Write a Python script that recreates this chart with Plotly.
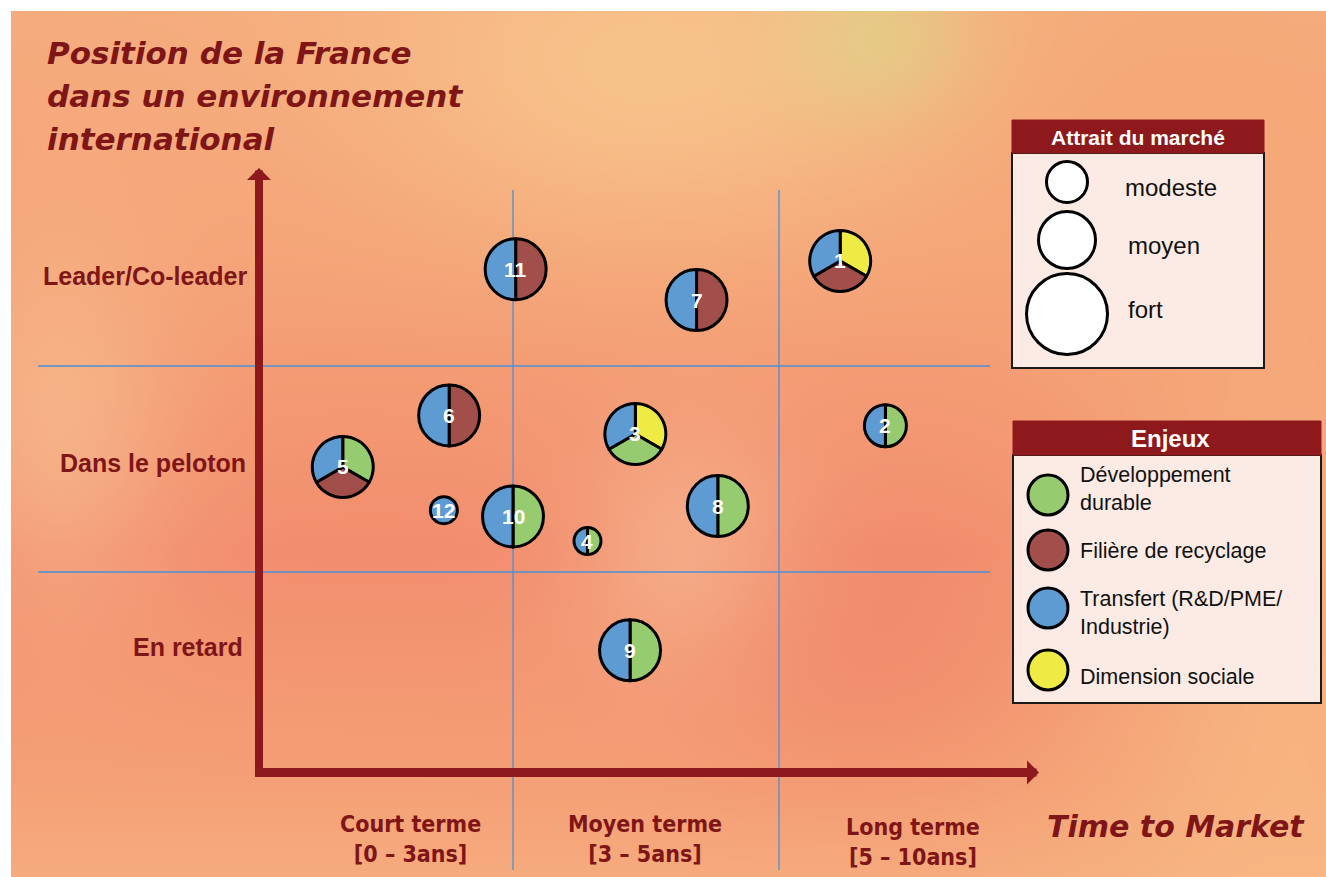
import numpy as np
import plotly.graph_objects as go
import zlib, struct, base64

W, H = 1326, 877

# ------------------------------------------------------------------ data
bubble_ids = ["1", "2", "3", "4", "5", "6", "7", "8", "9", "10", "11", "12"]
# horizon: 0-1 = court terme, 1-2 = moyen terme, 2-3 = long terme
horizon = [2.23, 2.40, 1.46, 1.28, 0.36, 0.76, 1.69, 1.77, 1.44, 1.00, 1.01, 0.74]
# position: 0-1 = en retard, 1-2 = dans le peloton, 2-3 = leader/co-leader
position = [2.51, 1.71, 1.67, 1.15, 1.51, 1.76, 2.32, 1.32, 0.62, 1.27, 2.47, 1.30]
attrait = ["fort", "moyen", "fort", "modeste", "fort", "fort",
           "fort", "fort", "fort", "fort", "fort", "modeste"]
enjeux = [
    ["Dimension sociale", "Filière de recyclage", "Transfert"],
    ["Développement durable", "Transfert"],
    ["Dimension sociale", "Développement durable", "Transfert"],
    ["Développement durable", "Transfert"],
    ["Développement durable", "Filière de recyclage", "Transfert"],
    ["Filière de recyclage", "Transfert"],
    ["Filière de recyclage", "Transfert"],
    ["Développement durable", "Transfert"],
    ["Développement durable", "Transfert"],
    ["Développement durable", "Transfert"],
    ["Filière de recyclage", "Transfert"],
    ["Transfert"],
]

enjeux_keys = ["Développement durable", "Filière de recyclage", "Transfert", "Dimension sociale"]
enjeux_legend = ["Développement<br>durable", "Filière de recyclage",
                 "Transfert (R&D/PME/<br>Industrie)", "Dimension sociale"]
attrait_levels = ["modeste", "moyen", "fort"]
row_labels = ["Leader/Co-leader", "Dans le peloton", "En retard"]
col_labels = ["Court terme<br>[0 – 3ans]", "Moyen terme<br>[3 – 5ans]", "Long terme<br>[5 – 10ans]"]
title_lines = ["Position de la France", "dans un environnement", "international"]
xaxis_title = "Time to Market"
legend1_title = "Attrait du marché"
legend2_title = "Enjeux"

# ------------------------------------------------------------------ styles
enjeux_colors = {"Développement durable": "#97CB6F", "Filière de recyclage": "#A24F4B",
                 "Transfert": "#5E9BD2", "Dimension sociale": "#F0EA44"}
bubble_diam = {"modeste": 30, "moyen": 45, "fort": 64}
legend_diam = {"modeste": 44, "moyen": 60, "fort": 84}
DARK = "#7F1517"
HEAD = "#8E191D"
GRID = "#4A90D9"
FONT = "Liberation Sans, Arial, sans-serif"

# axis scale (pixels per unit) so that the whole page is the plot area
X0PX, XU = 247.0, 266.0
Y0PX, YU = 778.0, 206.0
xr = [(0 - X0PX) / XU, (W - X0PX) / XU]
yr = [(Y0PX - H) / YU, Y0PX / YU]


def px_x(x):
    return X0PX + x * XU


def px_y(y):
    return Y0PX - y * YU


def P(px, py):
    return px / W, 1 - py / H


def dx(px):
    return (px - X0PX) / XU


def dy(py):
    return (Y0PX - py) / YU


# ------------------------------------------------------------------ background image
def png_uri(arr):
    h, w, _ = arr.shape
    raw = b"".join(b"\x00" + arr[i].tobytes() for i in range(h))

    def chunk(t, d):
        c = struct.pack(">I", len(d)) + t + d
        return c + struct.pack(">I", zlib.crc32(t + d) & 0xFFFFFFFF)

    png = (b"\x89PNG\r\n\x1a\n"
           + chunk(b"IHDR", struct.pack(">IIBBBBB", w, h, 8, 2, 0, 0, 0))
           + chunk(b"IDAT", zlib.compress(raw, 9))
           + chunk(b"IEND", b""))
    return "data:image/png;base64," + base64.b64encode(png).decode()


F = 4
BX0, BY0 = 11, 11
bw, bh = (W - BX0) // F, (H - BY0) // F
gx = BX0 + (np.arange(bw) + 0.5) * F
gy = BY0 + (np.arange(bh) + 0.5) * F
XX, YY = np.meshgrid(gx, gy)
stops_y = [0, 250, 550, 780, 877]
stops_c = np.array([[246, 172, 126], [245, 164, 120], [242, 142, 110],
                    [245, 160, 118], [246, 172, 126]], float)
img = np.zeros((bh, bw, 3))
for k in range(3):
    img[:, :, k] = np.interp(YY, stops_y, stops_c[:, k])
blobs = [
    (650, 70, 200, 120, (249, 205, 145), 0.7),
    (880, 40, 70, 60, (215, 224, 140), 0.5),
    (60, 430, 80, 130, (250, 210, 160), 0.45),
    (690, 560, 80, 90, (250, 206, 165), 0.5),
    (1290, 650, 150, 250, (250, 200, 140), 0.55),
    (850, 660, 140, 90, (238, 128, 102), 0.4),
    (1150, 120, 150, 150, (245, 165, 110), 0.3),
]
for cx, cy, sx, sy, col, s in blobs:
    a = s * np.exp(-((XX - cx) ** 2 / (2 * sx ** 2) + (YY - cy) ** 2 / (2 * sy ** 2)))
    for k in range(3):
        img[:, :, k] = img[:, :, k] * (1 - a) + col[k] * a
img = np.clip(img, 0, 255).astype(np.uint8)
bg_uri = png_uri(img)

# ------------------------------------------------------------------ figure
fig = go.Figure()
ann = []

# bubbles (pies placed at the data position)
for bid, x, y, att, enj in zip(bubble_ids, horizon, position, attrait, enjeux):
    cx, cy = px_x(x), px_y(y)
    r = (bubble_diam[att] - 3) / 2
    fig.add_trace(go.Pie(
        values=[1] * len(enj), labels=enj, sort=False, direction="clockwise", rotation=0,
        marker=dict(colors=[enjeux_colors[e] for e in enj], line=dict(color="black", width=3)),
        textinfo="none", hoverinfo="label", showlegend=False,
        domain=dict(x=[(cx - r) / W, (cx + r) / W], y=[1 - (cy + r) / H, 1 - (cy - r) / H]),
    ))
    ann.append(dict(x=x, y=y, xref="x", yref="y", text=f"<b>{bid}</b>", showarrow=False,
                    xanchor="center", yanchor="middle",
                    font=dict(family=FONT, size=21, color="white")))

# legend: attrait du marché
leg_att_y = [182, 240, 314]
fig.add_trace(go.Scatter(
    x=[dx(1067)] * 3, y=[dy(v) for v in leg_att_y], mode="markers", hoverinfo="skip",
    opacity=1,
    marker=dict(size=[legend_diam[l] - 3 for l in attrait_levels], color="white", opacity=1,
                line=dict(color="black", width=3)), showlegend=False))
# legend: enjeux
leg_enj_y = [495, 550, 608, 670]
fig.add_trace(go.Scatter(
    x=[dx(1048)] * 4, y=[dy(v) for v in leg_enj_y], mode="markers", hoverinfo="skip",
    opacity=1,
    marker=dict(size=40, color=[enjeux_colors[k] for k in enjeux_keys], opacity=1,
                line=dict(color="black", width=3)), showlegend=False))

shapes = []
# grid lines
for gxv in [1, 2]:
    shapes.append(dict(type="line", xref="x", yref="y", x0=gxv, x1=gxv, y0=dy(190), y1=dy(870),
                       line=dict(color=GRID, width=1.3), layer="below"))
for gyv in [1, 2]:
    shapes.append(dict(type="line", xref="x", yref="y", x0=dx(38), x1=dx(990), y0=gyv, y1=gyv,
                       line=dict(color=GRID, width=1.3), layer="below"))
# axis shafts
shapes.append(dict(type="line", xref="paper", yref="paper", x0=259 / W, x1=259 / W,
                   y0=1 - 777 / H, y1=1 - 180 / H, line=dict(color=HEAD, width=8), layer="above"))
shapes.append(dict(type="line", xref="paper", yref="paper", x0=255 / W, x1=1030 / W,
                   y0=1 - 772.5 / H, y1=1 - 772.5 / H, line=dict(color=HEAD, width=9), layer="above"))
# legend boxes
for (x0, y0, x1, yh, y1) in [(1012, 120, 1264, 153, 368), (1013, 421, 1321, 455, 703)]:
    shapes.append(dict(type="rect", xref="paper", yref="paper", x0=x0 / W, x1=x1 / W,
                       y0=1 - y1 / H, y1=1 - yh / H, fillcolor="#FCEBE4",
                       line=dict(color="#1a1a1a", width=2), layer="below"))
    shapes.append(dict(type="rect", xref="paper", yref="paper", x0=x0 / W, x1=x1 / W,
                       y0=1 - yh / H, y1=1 - y0 / H, fillcolor=HEAD,
                       line=dict(color=HEAD, width=1), layer="below"))

# arrow heads
ann.append(dict(xref="paper", yref="paper", x=259 / W, y=1 - 168 / H, ax=0, ay=40, text="",
                showarrow=True, arrowhead=1, arrowsize=0.5, arrowwidth=8, arrowcolor=HEAD))
ann.append(dict(xref="paper", yref="paper", x=1039 / W, y=1 - 772.5 / H, ax=-40, ay=0, text="",
                showarrow=True, arrowhead=1, arrowsize=0.5, arrowwidth=8, arrowcolor=HEAD))
# title (one annotation per line)
for line, ly in zip(title_lines, [53, 96, 139]):
    x_, y_ = P(45, ly)
    ann.append(dict(xref="paper", yref="paper", x=x_, y=y_, xanchor="left", yanchor="middle",
                    text=f"<b><i>{line}</i></b>", showarrow=False, align="left",
                    font=dict(family="DejaVu Sans, " + FONT, size=31, color=DARK)))
# row labels
for lab, py, rx in zip(row_labels, [276, 463, 647], [250, 248, 245]):
    x_, y_ = P(rx, py)
    ann.append(dict(xref="paper", yref="paper", x=x_, y=y_, xanchor="right", yanchor="middle",
                    text=f"<b>{lab}</b>", showarrow=False,
                    font=dict(family=FONT, size=25, color=DARK)))
# column labels
for lab, cxp, cyp in zip(col_labels, [410, 645, 913], [839, 839, 842]):
    x_, y_ = P(cxp, cyp)
    ann.append(dict(xref="paper", yref="paper", x=x_, y=y_, xanchor="center", yanchor="middle",
                    text=f"<b>{lab}</b>", showarrow=False, align="center",
                    font=dict(family="Liberation Sans Narrow, DejaVu Sans Condensed, " + FONT,
                              size=23, color=DARK)))
x_, y_ = P(1045, 826)
ann.append(dict(xref="paper", yref="paper", x=x_, y=y_, xanchor="left", yanchor="middle",
                text=f"<b><i>{xaxis_title}</i></b>", showarrow=False,
                font=dict(family="DejaVu Sans, " + FONT, size=30, color=DARK)))
# legend headers
x_, y_ = P(1138, 137)
ann.append(dict(xref="paper", yref="paper", x=x_, y=y_, xanchor="center", yanchor="middle",
                text=f"<b>{legend1_title}</b>",
                showarrow=False, font=dict(family=FONT, size=21, color="white")))
x_, y_ = P(1170, 438)
ann.append(dict(xref="paper", yref="paper", x=x_, y=y_, xanchor="center", yanchor="middle",
                text=f"<b>{legend2_title}</b>",
                showarrow=False, font=dict(family=FONT, size=24, color="white")))
# legend texts
for lab, lx, ly in zip(attrait_levels, [1123, 1126, 1126], [187, 245, 309]):
    x_, y_ = P(lx, ly)
    ann.append(dict(xref="paper", yref="paper", x=x_, y=y_, xanchor="left", yanchor="middle",
                    text=lab, showarrow=False, font=dict(family=FONT, size=24, color="#111")))
for lab, ly in zip(enjeux_legend, [489, 551, 613, 677]):
    x_, y_ = P(1078, ly)
    ann.append(dict(xref="paper", yref="paper", x=x_, y=y_, xanchor="left", yanchor="middle",
                    text=lab, showarrow=False, align="left",
                    font=dict(family=FONT, size=21.5, color="#111")))

fig.update_layout(
    width=W, height=H, margin=dict(l=0, r=0, t=0, b=0),
    paper_bgcolor="white", plot_bgcolor="rgba(0,0,0,0)",
    xaxis=dict(range=xr, visible=False, fixedrange=True),
    yaxis=dict(range=yr, visible=False, fixedrange=True),
    shapes=shapes, annotations=ann,
    images=[dict(source=bg_uri, xref="paper", yref="paper", x=BX0 / W, y=1 - BY0 / H,
                 sizex=(W - BX0) / W, sizey=(H - BY0) / H, sizing="stretch",
                 xanchor="left", yanchor="top", layer="below")],
    showlegend=False,
)

fig.write_html("out.html", config={"displayModeBar": False},
               post_script="document.body.style.margin='0';")
